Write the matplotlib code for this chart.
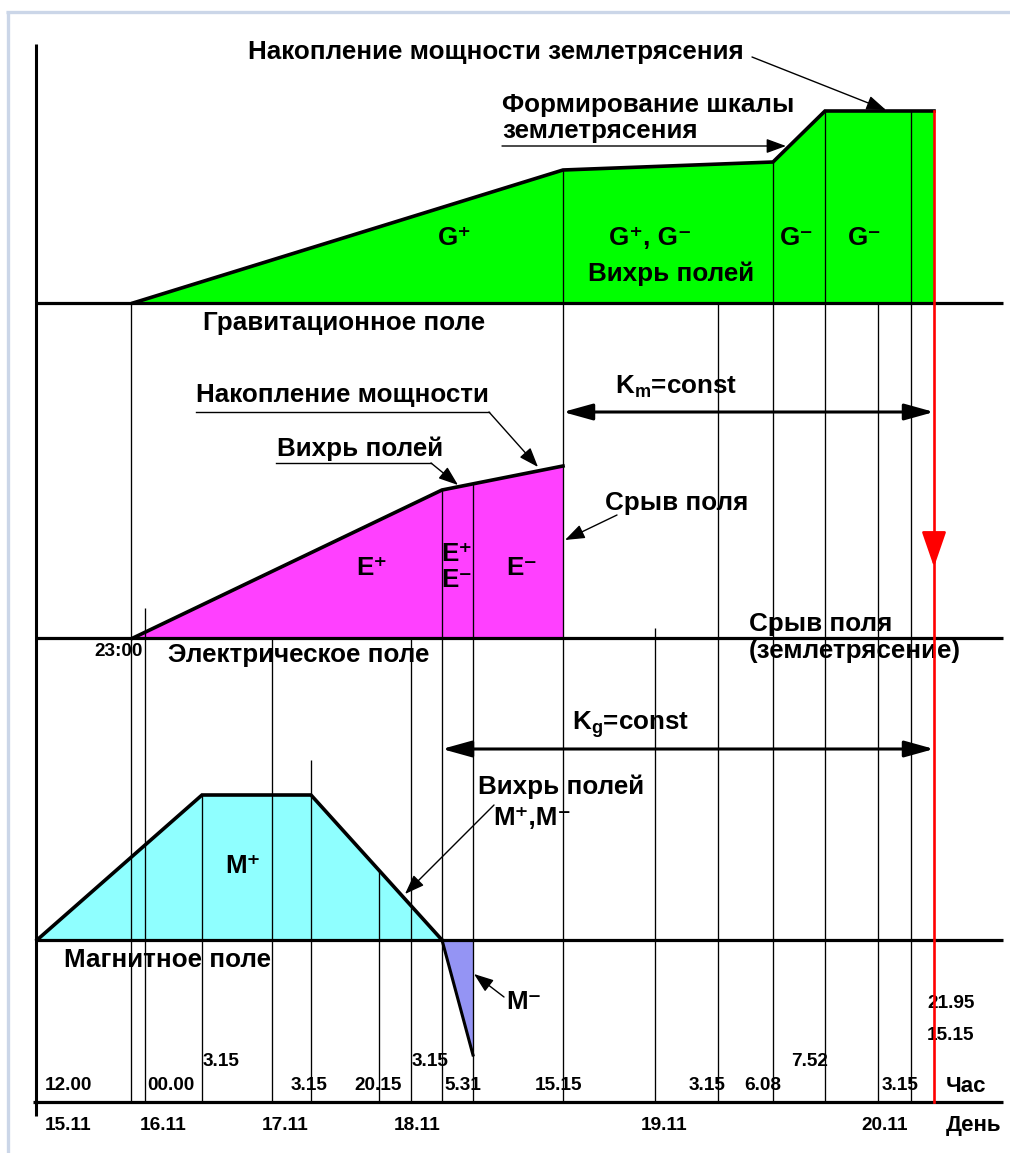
import numpy as np
import matplotlib.pyplot as plt

plt.rcParams['font.family'] = ['Liberation Sans', 'DejaVu Sans']
plt.rcParams['font.weight'] = 'bold'
plt.rcParams['mathtext.fontset'] = 'custom'
plt.rcParams['mathtext.rm'] = 'Liberation Sans:bold'
plt.rcParams['mathtext.it'] = 'Liberation Sans:bold'
plt.rcParams['mathtext.bf'] = 'Liberation Sans:bold'

# уровни полей (высота над своей базовой линией)
grav_x = [133, 563, 773, 825, 934]
grav_h = [0, 133, 141, 192, 192]
elec_x = [133, 442, 563]
elec_h = [0, 148, 172]
magn_x = [37, 202, 311, 442]
magn_h = [0, 145, 145, 0]
magn_neg_x = [442, 473]
magn_neg_h = [0, -115]

# линии событий: положение на шкале времени и верхний конец
event_x = [131, 145, 202, 272, 311, 379, 411, 442, 473, 563, 655, 718, 773, 825, 878, 911]
event_top = [303, 608, 795, 638, 760, 870, 638, 490, 484, 170, 628, 303, 162, 111, 303, 111]
quake_x = 934

# подписи часов и дней
hour_low = ['12.00', '00.00', '3.15', '20.15', '5.31', '15.15', '3.15', '6.08', '3.15']
hour_low_x = [45, 147, 291, 354, 444, 535, 689, 744, 882]
hour_up = ['3.15', '3.15', '7.52']
hour_up_x = [203, 412, 791]
days = ['15.11', '16.11', '17.11', '18.11', '19.11', '20.11']
days_x = [45, 140, 262, 394, 641, 861]

g_base, e_base, m_base, t_axis = 303, 638, 940, 1102
left_x, right_x = 36, 1003
big, small, unit = 18.7, 13.7, 16

fig = plt.figure(figsize=(10.1, 11.53), dpi=100)
ax = fig.add_axes([0, 0, 1, 1])
ax.set_xlim(0, 1010)
ax.set_ylim(1153, 0)
ax.axis('off')

# рамка страницы
ax.plot([6, 1010], [12, 12], color='#cbd6e8', lw=2.4, solid_capstyle='butt')
ax.plot([7.5, 7.5], [11, 1153], color='#cbd6e8', lw=2.4, solid_capstyle='butt')


def level(base, h):
    return base - np.asarray(h, dtype=float)


gy = level(g_base, grav_h)
ey = level(e_base, elec_h)
my = level(m_base, magn_h)
ny = level(m_base, magn_neg_h)

ax.fill_between(grav_x, gy, g_base, color='#00ff00', lw=0, zorder=1)
ax.fill_between(elec_x, ey, e_base, color='#ff40ff', lw=0, zorder=1)
ax.fill_between(magn_x, my, m_base, color='#8fffff', lw=0, zorder=1)
ax.fill_between(magn_neg_x, ny, m_base, color='#9494f4', lw=0, zorder=1)

ax.vlines(event_x, event_top, t_axis, colors='k', lw=0.95, zorder=3)

ax.plot(grav_x, gy, color='k', lw=2.6, zorder=4, solid_joinstyle='miter')
ax.plot(elec_x, ey, color='k', lw=2.6, zorder=4, solid_joinstyle='miter')
ax.plot(magn_x, my, color='k', lw=2.6, zorder=4, solid_joinstyle='miter')
ax.plot(magn_neg_x, ny, color='k', lw=2.2, zorder=4)

ax.hlines([g_base, e_base, m_base], left_x, right_x, colors='k', lw=2.3, zorder=5)
ax.hlines(t_axis, left_x - 3, right_x, colors='k', lw=2.3, zorder=5)
ax.vlines(left_x, 44, 1116, colors='k', lw=2.2, zorder=5)

# момент землетрясения
ax.plot([quake_x, quake_x], [gy[-1], t_axis], color='red', lw=1.9, zorder=6)
ax.annotate('', xy=(quake_x, 567), xytext=(quake_x, 540),
            arrowprops=dict(arrowstyle='-|>,head_length=1.1,head_width=0.38',
                            color='red', lw=1.9, shrinkA=0, shrinkB=0,
                            mutation_scale=20), zorder=7)

arrow = dict(arrowstyle='-|>,head_length=0.6,head_width=0.22', color='k',
             lw=1.0, shrinkA=0, shrinkB=0, mutation_scale=20)
dbl = dict(arrowstyle='<|-|>,head_length=0.9,head_width=0.25', color='k',
           lw=2.2, shrinkA=0, shrinkB=0, mutation_scale=20)

# гравитационное поле
ax.text(248, 52, 'Накопление мощности землетрясения', fontsize=big, va='center')
ax.annotate('', xy=(886, 110), xytext=(752, 57), arrowprops=arrow)
ax.text(502, 105, 'Формирование шкалы', fontsize=big, va='center')
ax.text(502, 131, 'землетрясения', fontsize=big, va='center')
ax.annotate('', xy=(786, 146), xytext=(502, 146), arrowprops=arrow)
ax.text(455, 238, 'G⁺', fontsize=big, ha='center', va='center')
ax.text(650, 238, 'G⁺, G⁻', fontsize=big, ha='center', va='center')
ax.text(671, 274, 'Вихрь полей', fontsize=big, ha='center', va='center')
ax.text(797, 238, 'G⁻', fontsize=big, ha='center', va='center')
ax.text(865, 238, 'G⁻', fontsize=big, ha='center', va='center')
ax.text(203, 323, 'Гравитационное поле', fontsize=big, va='center')

# электрическое поле
ax.text(615, 387, 'K$_\\mathrm{m}$=const', fontsize=big, va='center')
ax.annotate('', xy=(934, 412), xytext=(563, 412), arrowprops=dbl)
ax.text(196, 395, 'Накопление мощности', fontsize=big, va='center')
ax.plot([196, 489], [412, 412], color='k', lw=1.0)
ax.annotate('', xy=(538, 467), xytext=(489, 412), arrowprops=arrow)
ax.text(277, 449, 'Вихрь полей', fontsize=big, va='center')
ax.plot([276, 431], [463, 463], color='k', lw=1.0)
ax.annotate('', xy=(458, 485), xytext=(431, 463), arrowprops=arrow)
ax.text(605, 503, 'Срыв поля', fontsize=big, va='center')
ax.annotate('', xy=(565, 540), xytext=(617, 515), arrowprops=arrow)
ax.text(372, 568, 'E⁺', fontsize=big, ha='center', va='center')
ax.text(457, 554, 'E⁺', fontsize=big, ha='center', va='center')
ax.text(457, 580, 'E⁻', fontsize=big, ha='center', va='center')
ax.text(522, 568, 'E⁻', fontsize=big, ha='center', va='center')
ax.text(749, 624, 'Срыв поля', fontsize=big, va='center')
ax.text(749, 651, '(землетрясение)', fontsize=big, va='center')
ax.text(143, 651, '23:00', fontsize=small, ha='right', va='center')
ax.text(168, 655, 'Электрическое поле', fontsize=big, va='center')

# магнитное поле
ax.text(572, 725, 'K$_\\mathrm{g}$=const', fontsize=big, va='center')
ax.annotate('', xy=(934, 749), xytext=(442, 749), arrowprops=dbl)
ax.text(478, 787, 'Вихрь полей', fontsize=big, va='center')
ax.text(493, 818, 'M⁺,M⁻', fontsize=big, va='center')
ax.annotate('', xy=(405, 894), xytext=(494, 805), arrowprops=arrow)
ax.text(243, 866, 'M⁺', fontsize=big, ha='center', va='center')
ax.text(64, 960, 'Магнитное поле', fontsize=big, va='center')
ax.text(506, 1002, 'M⁻', fontsize=big, va='center')
ax.annotate('', xy=(474, 974), xytext=(504, 997), arrowprops=arrow)

# шкала времени
ax.text(927, 1003, '21.95', fontsize=small, va='center', zorder=2)
ax.text(927, 1036, '15.15', fontsize=small, va='center', zorder=2)
for lab, x in zip(hour_low, hour_low_x):
    ax.text(x, 1086, lab, fontsize=small, va='center', zorder=2)
for lab, x in zip(hour_up, hour_up_x):
    ax.text(x, 1062, lab, fontsize=small, va='center', zorder=2)
ax.text(946, 1086, 'Час', fontsize=unit, va='center')
for lab, x in zip(days, days_x):
    ax.text(x, 1125, lab, fontsize=small, va='center')
ax.text(946, 1125, 'День', fontsize=unit, va='center')

fig.savefig('out.png', dpi=100)
